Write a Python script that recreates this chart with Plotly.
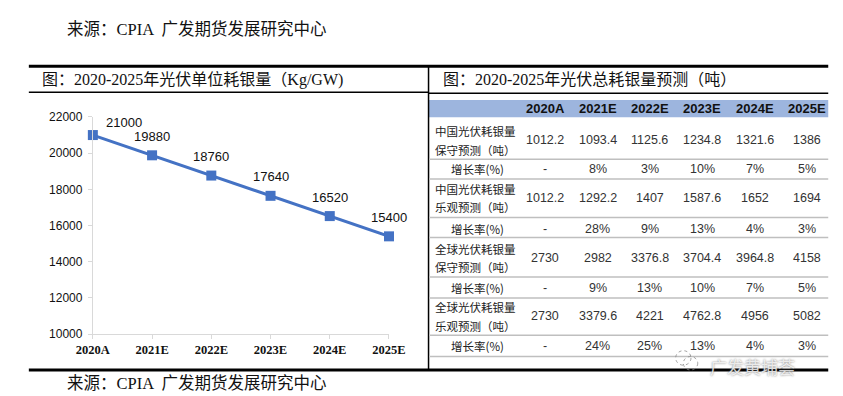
import plotly.graph_objects as go

# ---------------- data ----------------
unit_years = ["2020A", "2021E", "2022E", "2023E", "2024E", "2025E"]
unit_silver = [21000, 19880, 18760, 17640, 16520, 15400]
y_ticks = [10000, 12000, 14000, 16000, 18000, 20000, 22000]

table_years = ["2020A", "2021E", "2022E", "2023E", "2024E", "2025E"]
china_cons = [1012.2, 1093.4, 1125.6, 1234.8, 1321.6, 1386]
china_cons_g = ["-", "8%", "3%", "10%", "7%", "5%"]
china_opt = [1012.2, 1292.2, 1407, 1587.6, 1652, 1694]
china_opt_g = ["-", "28%", "9%", "13%", "4%", "3%"]
global_cons = [2730, 2982, 3376.8, 3704.4, 3964.8, 4158]
global_cons_g = ["-", "9%", "13%", "10%", "7%", "5%"]
global_opt = [2730, 3379.6, 4221, 4762.8, 4956, 5082]
global_opt_g = ["-", "24%", "25%", "13%", "4%", "3%"]

row_labels = [
    ["中国光伏耗银量", "保守预测（吨）"],
    ["增长率(%)"],
    ["中国光伏耗银量", "乐观预测（吨）"],
    ["增长率(%)"],
    ["全球光伏耗银量", "保守预测（吨）"],
    ["增长率(%)"],
    ["全球光伏耗银量", "乐观预测（吨）"],
    ["增长率(%)"],
]
row_values = [china_cons, china_cons_g, china_opt, china_opt_g,
              global_cons, global_cons_g, global_opt, global_opt_g]

source_text = "来源：CPIA  广发期货发展研究中心"
left_title = "图：2020-2025年光伏单位耗银量（Kg/GW)"
right_title = "图：2020-2025年光伏总耗银量预测（吨）"
watermark = "广发黄埔荟"

# ---------------- layout helpers ----------------
W, H = 843, 396


def X(px):
    return px / W


def Y(py):
    return 1 - py / H


SERIF = "Liberation Serif, Noto Sans CJK SC, serif"
CJK = "Noto Sans CJK SC, sans-serif"
NUM = "Liberation Sans Narrow, Liberation Sans, Arial, sans-serif"
BLUE = "#4472C4"
AXIS_GRAY = "#D9D9D9"

fig = go.Figure()

fig.add_trace(go.Scatter(
    x=unit_years, y=unit_silver, mode="lines+markers",
    line=dict(color=BLUE, width=3),
    marker=dict(symbol="square", size=10, color=BLUE),
    cliponaxis=False, hoverinfo="skip", showlegend=False,
))

shapes = []
annotations = []


def hline(y, x0, x1, width, color="black"):
    shapes.append(dict(type="line", xref="paper", yref="paper",
                       x0=X(x0), x1=X(x1), y0=Y(y), y1=Y(y),
                       line=dict(color=color, width=width)))


def text(x, y, s, size, family, color="#111", xanchor="center", weight="normal"):
    annotations.append(dict(xref="paper", yref="paper", x=X(x), y=Y(y), text=s,
                            showarrow=False, xanchor=xanchor, yanchor="middle",
                            font=dict(size=size, family=family, color=color, weight=weight)))


# frame lines
hline(53, 4, 837, 3)
hline(368, 4, 837, 3)
hline(80, 4, 420.5, 1.5)
hline(81, 420.5, 837, 1.5)
shapes.append(dict(type="line", xref="paper", yref="paper", x0=X(420.5), x1=X(420.5),
                   y0=Y(53), y1=Y(368), line=dict(color="black", width=1.5)))

# header band
shapes.append(dict(type="rect", xref="paper", yref="paper", x0=X(421), x1=X(837),
                   y0=Y(106), y1=Y(88), fillcolor="#9DB5DE", line=dict(width=0), layer="below"))

# row separators
for yy in [149.5, 170, 210, 230.7, 271.7, 293.3, 332, 354]:
    hline(yy, 421, 837, 1.5, "#BFBFBF")

# texts
text(42, 15, source_text, 16.5, SERIF, "#111", "left")
text(42, 382, source_text, 16.5, SERIF, "#111", "left")
text(16, 67, left_title, 16, SERIF, "#111", "left")
text(433, 67, right_title, 16, SERIF, "#111", "left")

col_x = [542 + i * 54.6 for i in range(len(table_years))]
for cx, yr in zip(col_x, table_years):
    text(cx, 97, yr, 13, NUM, "#111", "center", "bold")

row_centers = [130, 160, 190, 221.5, 252, 283, 312.5, 343.5]
for lab, vals, cy in zip(row_labels, row_values, row_centers):
    if len(lab) == 2:
        text(425, cy - 9.5, lab[0], 11.5, CJK, "#222", "left")
        text(425, cy + 9.5, lab[1], 11.5, CJK, "#222", "left")
    else:
        text(471, cy, lab[0], 11.5, CJK, "#222", "center")
    for cx, v in zip(col_x, vals):
        s = v if isinstance(v, str) else f"{v:g}"
        text(cx, cy, s, 12.5, NUM, "#333", "center")

# data labels on the line chart
for i, (c, v) in enumerate(zip(unit_years, unit_silver)):
    annotations.append(dict(xref="x", yref="y", x=c, y=v, text=str(v), showarrow=False,
                            xshift=31 if i == 0 else 0, yshift=13 if i == 0 else 19,
                            font=dict(size=13, family="Liberation Sans, Arial", color="#111")))

# watermark
shapes.append(dict(type="circle", xref="paper", yref="paper", x0=X(678), x1=X(694),
                   y0=Y(363), y1=Y(348), line=dict(color="rgba(140,140,140,0.8)", width=1, dash="dot")))
shapes.append(dict(type="circle", xref="paper", yref="paper", x0=X(686), x1=X(701),
                   y0=Y(368), y1=Y(354), line=dict(color="rgba(140,140,140,0.8)", width=1, dash="dot")))
annotations.append(dict(xref="paper", yref="paper", x=X(712), y=Y(364), text=watermark,
                        showarrow=False, xanchor="left", yanchor="middle",
                        font=dict(size=17, family=CJK, color="rgba(255,255,255,0.8)",
                                  shadow="0px 0px 2px #555")))

fig.update_layout(
    width=W, height=H, margin=dict(l=0, r=0, t=0, b=0),
    paper_bgcolor="white", plot_bgcolor="white",
    shapes=shapes, annotations=annotations, showlegend=False,
    xaxis=dict(type="category", domain=[X(70.7), X(379.3)], range=[0, 5],
               showline=True, linecolor=AXIS_GRAY, linewidth=1,
               ticks="outside", ticklen=4, tickcolor=AXIS_GRAY, showgrid=False,
               zeroline=False, fixedrange=True,
               tickfont=dict(size=12.5, family="Liberation Serif, serif", color="#111", weight="bold")),
    yaxis=dict(domain=[Y(330.7), Y(105.7)], range=[10000, 22000],
               tickvals=y_ticks, ticktext=[str(t) for t in y_ticks],
               showline=True, linecolor=AXIS_GRAY, linewidth=1,
               ticks="outside", ticklen=4, tickcolor=AXIS_GRAY, showgrid=False,
               zeroline=False, fixedrange=True, ticklabelstandoff=3,
               tickfont=dict(size=12, family="Liberation Sans, Arial", color="#111")),
)

fig.write_html("out.html")
